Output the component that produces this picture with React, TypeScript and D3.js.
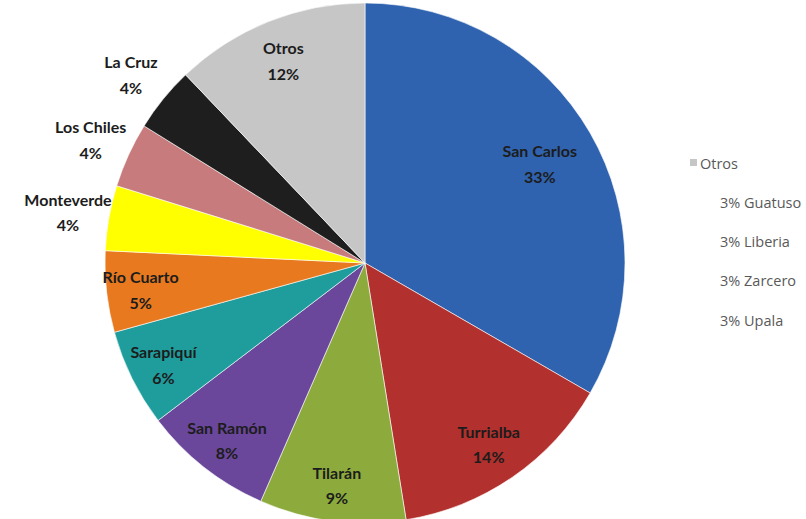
import React from "react";
import * as d3 from "d3";

const categories = ["San Carlos", "Turrialba", "Tilarán", "San Ramón", "Sarapiquí", "Río Cuarto", "Monteverde", "Los Chiles", "La Cruz", "Otros"];
const percents = [33, 14, 9, 8, 6, 5, 4, 4, 4, 12];
const colors = ["#2f63af", "#b2302d", "#8dab3d", "#6a479a", "#1f9d9c", "#e8791f", "#ffff00", "#c77b7c", "#1e1e1e", "#c6c6c6"];
const outsideLabels = ["Monteverde", "Los Chiles", "La Cruz"];
const legendHeader = "Otros";
const legendItems = ["3% Guatuso", "3% Liberia", "3% Zarcero", "3% Upala"];

const W = 806, H = 519;
const cx = 365, cy = 263, R = 260;

export default function App() {
  const data = categories.map((c, i) => ({ name: c, value: percents[i], color: colors[i] }));
  const pie = d3.pie<any>().value((d) => d.value).sort(null);
  const arcs = pie(data);
  const arc = d3.arc<any>().innerRadius(0).outerRadius(R);
  const outerArc = d3.arc<any>().innerRadius(R * 1.16).outerRadius(R * 1.16);
  const legendY = d3.scalePoint<string>().domain([legendHeader, ...legendItems]).range([163, 320]);

  const labelPos = (a: any): [number, number] => {
    if (outsideLabels.includes(a.data.name)) return outerArc.centroid(a) as [number, number];
    const rf = R * (0.885 - a.data.value * 0.0033);
    return d3.arc<any>().innerRadius(rf).outerRadius(rf).centroid(a) as [number, number];
  };

  return (
    <svg width={W} height={H} style={{ position: "absolute", left: 0, top: 0, background: "#fff" }}>
      <g transform={`translate(${cx},${cy})`}>
        {arcs.map((a, i) => (
          <path key={i} d={arc(a) as string} fill={a.data.color} stroke="#ffffff" strokeWidth={0.6} />
        ))}
        {arcs.map((a, i) => {
          const [x, y] = labelPos(a);
          return (
            <text key={"l" + i} x={x} y={y} textAnchor="middle" fontFamily="Lato, 'Open Sans', sans-serif" fontWeight="bold" fontSize={16} fill="#1c1c1c">
              <tspan x={x} dy="-0.3em">{a.data.name}</tspan>
              <tspan x={x} dy="1.6em">{a.data.value + "%"}</tspan>
            </text>
          );
        })}
      </g>
      <g fontFamily="'Open Sans', sans-serif" fontSize={14.5} fill="#595959">
        <rect x={690} y={(legendY(legendHeader) as number) - 4} width={7} height={7} fill="#c6c6c6" />
        <text x={700} y={legendY(legendHeader)} dominantBaseline="central">{legendHeader}</text>
        {legendItems.map((t) => (
          <text key={t} x={720} y={legendY(t)} dominantBaseline="central">{t}</text>
        ))}
      </g>
    </svg>
  );
}
